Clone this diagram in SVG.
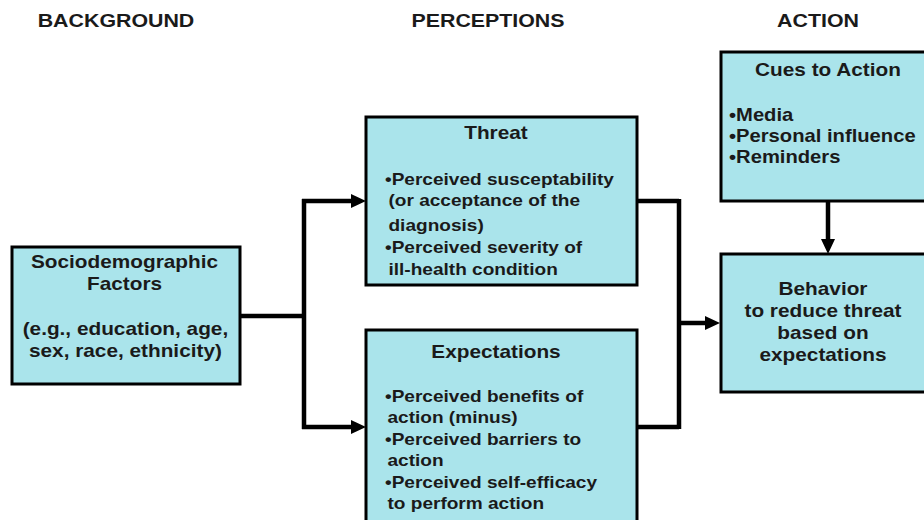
<svg xmlns="http://www.w3.org/2000/svg" width="924" height="520" viewBox="0 0 924 520">
  <defs>
    <style>
      .box { fill: #AAE4EB; stroke: #000; stroke-width: 3; }
      .wire { fill: none; stroke: #000; stroke-width: 4.5; }
      text { font-family: "Liberation Sans", Arial, sans-serif; font-weight: bold; fill: #1a1a1a; }
      .hdr { font-size: 18.5px; text-anchor: middle; }
      .ttl { font-size: 18px; text-anchor: middle; }
      .mid { font-size: 18px; text-anchor: middle; }
      .body { font-size: 16.5px; }
      .cue { font-size: 17.5px; }
    </style>
    <!-- solid arrowhead placed at the end of a connector, base on the line end -->
    <marker id="head" markerUnits="userSpaceOnUse" markerWidth="16" markerHeight="15" refX="0" refY="7" orient="auto">
      <path d="M0,0 L15,7 L0,14 Z" fill="#000"/>
    </marker>
  </defs>

  <rect width="924" height="520" fill="#fff"/>

  <!-- column headings (text is widened horizontally by the group transform) -->
  <g id="headings" transform="scale(1.155 1)">
    <text class="hdr" x="100.43" y="27">BACKGROUND</text>
    <text class="hdr" x="422.51" y="27">PERCEPTIONS</text>
    <text class="hdr" x="708.23" y="27">ACTION</text>
  </g>

  <!-- connectors -->
  <g id="connectors">
    <path class="wire" d="M240,316 H304"/>
    <path class="wire" d="M304,199 V429"/>
    <path class="wire" d="M302,201 H351" marker-end="url(#head)"/>
    <path class="wire" d="M302,427 H351" marker-end="url(#head)"/>
    <path class="wire" d="M637,201 H679"/>
    <path class="wire" d="M637,427 H679"/>
    <path class="wire" d="M679,199 V429"/>
    <path class="wire" d="M679,323 H705" marker-end="url(#head)"/>
    <path class="wire" d="M828,201 V239" marker-end="url(#head)"/>
  </g>

  <g id="sociodemographic">
    <rect class="box" x="12" y="247" width="228" height="137"/>
    <g transform="scale(1.155 1)">
      <text class="mid" x="107.8" y="268">Sociodemographic</text>
      <text class="mid" x="107.8" y="290">Factors</text>
      <text class="mid" x="108.6" y="335">(e.g., education, age,</text>
      <text class="mid" x="108.6" y="357">sex, race, ethnicity)</text>
    </g>
  </g>

  <g id="threat">
    <rect class="box" x="366" y="117" width="271" height="168"/>
    <g transform="scale(1.155 1)">
      <text class="ttl" x="429.44" y="139">Threat</text>
      <text class="body" x="333.33" y="185">•Perceived susceptability</text>
      <text class="body" x="336.36" y="206">(or acceptance of the</text>
      <text class="body" x="336.36" y="231">diagnosis)</text>
      <text class="body" x="333.33" y="253">•Perceived severity of</text>
      <text class="body" x="336.36" y="275">ill-health condition</text>
    </g>
  </g>

  <g id="expectations">
    <rect class="box" x="366" y="330" width="271" height="200"/>
    <g transform="scale(1.155 1)">
      <text class="ttl" x="429.44" y="358">Expectations</text>
      <text class="body" x="333.33" y="402">•Perceived benefits of</text>
      <text class="body" x="335.5" y="423">action (minus)</text>
      <text class="body" x="333.33" y="445">•Perceived barriers to</text>
      <text class="body" x="335.5" y="466">action</text>
      <text class="body" x="333.33" y="488">•Perceived self-efficacy</text>
      <text class="body" x="335.5" y="509">to perform action</text>
    </g>
  </g>

  <g id="cues-to-action">
    <rect class="box" x="721" y="52" width="220" height="149"/>
    <g transform="scale(1.155 1)">
      <text class="ttl" x="716.88" y="76">Cues to Action</text>
      <text class="cue" x="631.17" y="121">•Media</text>
      <text class="cue" x="631.17" y="142">•Personal influence</text>
      <text class="cue" x="631.17" y="163">•Reminders</text>
    </g>
  </g>

  <g id="behavior">
    <rect class="box" x="721" y="254" width="220" height="138"/>
    <g transform="scale(1.155 1)">
      <text class="mid" x="712.55" y="295">Behavior</text>
      <text class="mid" x="712.55" y="317">to reduce threat</text>
      <text class="mid" x="712.55" y="339">based on</text>
      <text class="mid" x="712.55" y="361">expectations</text>
    </g>
  </g>
</svg>
